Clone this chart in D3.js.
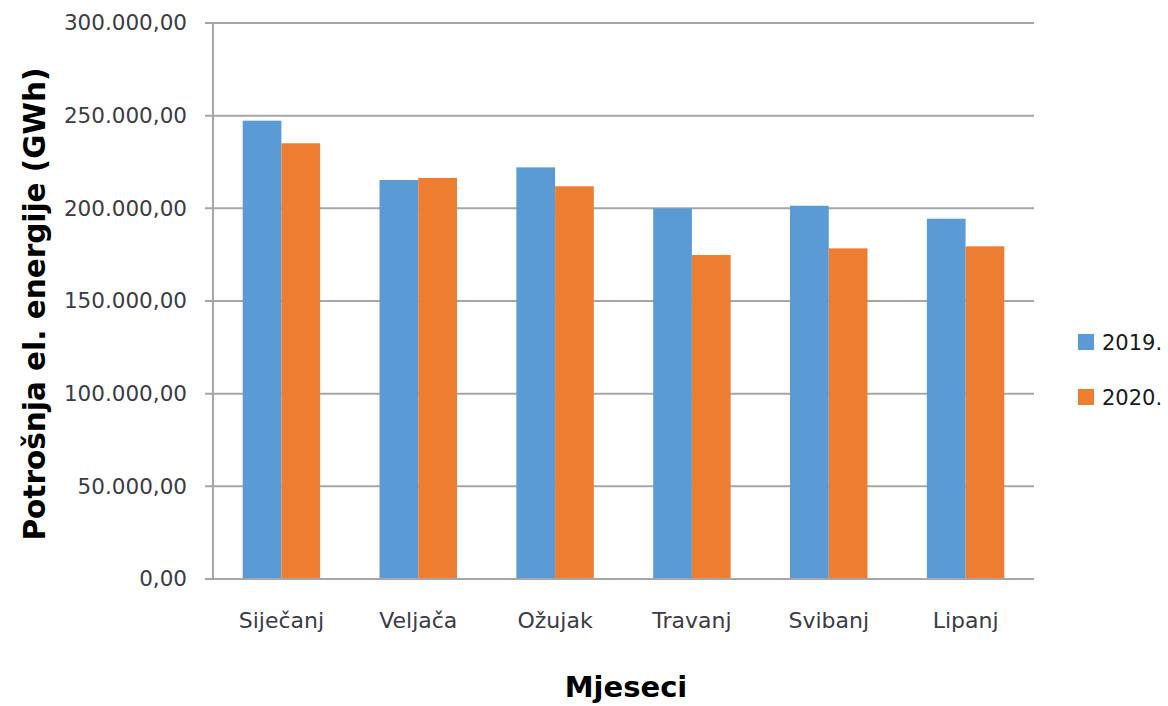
<!DOCTYPE html>
<html>
<head>
<meta charset="utf-8">
<script src="https://cdn.jsdelivr.net/npm/d3@7"></script>
<style>
  body { margin: 0; background: #fff; }
  svg text { font-family: "DejaVu Sans", sans-serif; }
</style>
</head>
<body>
<svg width="1168" height="706"></svg>
<script>
// chart data
var months = ["Siječanj", "Veljača", "Ožujak", "Travanj", "Svibanj", "Lipanj"];
var years = ["2019.", "2020."];
var values2019 = [247300, 215300, 222100, 200000, 201400, 194400];
var values2020 = [235100, 216400, 211900, 174800, 178400, 179500];
var yTicks = [0, 50000, 100000, 150000, 200000, 250000, 300000];
var colors = ["#5B9BD5", "#ED7D31"];

var series = [values2019, values2020];

var svg = d3.select("svg");
var margin = {left: 213, right: 134, top: 23, bottom: 127};
var width = 1168 - margin.left - margin.right;
var height = 706 - margin.top - margin.bottom;

var hr = d3.formatLocale({decimal: ",", thousands: ".", grouping: [3], currency: ["", ""]});
var fmt = hr.format(",.2f");

var g = svg.append("g")
    .attr("transform", "translate(" + margin.left + "," + margin.top + ")");

var x = d3.scaleBand()
    .domain(months)
    .range([0, width])
    .paddingInner(0.434)
    .paddingOuter(0.217);

var x1 = d3.scaleBand()
    .domain(years)
    .range([0, x.bandwidth()]);

var y = d3.scaleLinear()
    .domain([0, 300000])
    .range([height, 0]);

// gridlines
g.append("g")
    .selectAll("line")
    .data(yTicks)
    .enter()
    .append("line")
    .attr("x1", -8)
    .attr("x2", width)
    .attr("y1", function(d) { return y(d); })
    .attr("y2", function(d) { return y(d); })
    .attr("stroke", "#a6a6a6")
    .attr("stroke-width", 2);

// left axis line
g.append("line")
    .attr("x1", 0).attr("x2", 0)
    .attr("y1", 0).attr("y2", height)
    .attr("stroke", "#a6a6a6")
    .attr("stroke-width", 2);

// y tick labels
var yAxis = d3.axisLeft(y).tickValues(yTicks).tickFormat(fmt).tickSize(0).tickPadding(26);
var ya = g.append("g").call(yAxis);
ya.select(".domain").remove();
ya.selectAll("text")
    .attr("fill", "#3b3b45")
    .style("font-size", "21.5px")
    .style("font-family", "'DejaVu Sans', sans-serif");

// bars
var groups = g.selectAll(".month")
    .data(months)
    .enter()
    .append("g")
    .attr("transform", function(d) { return "translate(" + x(d) + ",0)"; });

groups.selectAll("rect")
    .data(function(d, i) {
        return years.map(function(yr, k) { return {year: yr, value: series[k][i], k: k}; });
    })
    .enter()
    .append("rect")
    .attr("x", function(d) { return x1(d.year); })
    .attr("width", x1.bandwidth())
    .attr("y", function(d) { return y(d.value); })
    .attr("height", function(d) { return height - y(d.value); })
    .attr("fill", function(d) { return colors[d.k]; });

// bottom axis
var xAxis = d3.axisBottom(x).tickSize(0).tickPadding(33);
var xa = g.append("g")
    .attr("transform", "translate(0," + height + ")")
    .call(xAxis);
xa.select(".domain").remove();
xa.selectAll("text")
    .attr("fill", "#3b3b45")
    .style("font-size", "22px")
    .style("font-family", "'DejaVu Sans', sans-serif");

g.append("line")
    .attr("x1", -8).attr("x2", width)
    .attr("y1", height).attr("y2", height)
    .attr("stroke", "#a6a6a6")
    .attr("stroke-width", 2);

// axis titles
svg.append("text")
    .attr("x", 626)
    .attr("y", 697)
    .attr("text-anchor", "middle")
    .style("font-size", "29px")
    .style("font-weight", "bold")
    .attr("fill", "#000")
    .text("Mjeseci");

svg.append("text")
    .attr("transform", "translate(45,304) rotate(-90)")
    .attr("text-anchor", "middle")
    .style("font-size", "29.5px")
    .style("font-weight", "bold")
    .attr("fill", "#000")
    .text("Potrošnja el. energije (GWh)");

// legend
var legend = svg.append("g")
    .attr("transform", "translate(1078,334)");
var li = legend.selectAll("g")
    .data(years)
    .enter()
    .append("g")
    .attr("transform", function(d, i) { return "translate(0," + i * 55 + ")"; });
li.append("rect")
    .attr("width", 16)
    .attr("height", 16)
    .attr("fill", function(d, i) { return colors[i]; });
li.append("text")
    .attr("x", 24)
    .attr("y", 8)
    .attr("dy", "0.36em")
    .attr("fill", "#1a1a1a")
    .style("font-size", "21px")
    .text(function(d) { return d; });
</script>
</body>
</html>
